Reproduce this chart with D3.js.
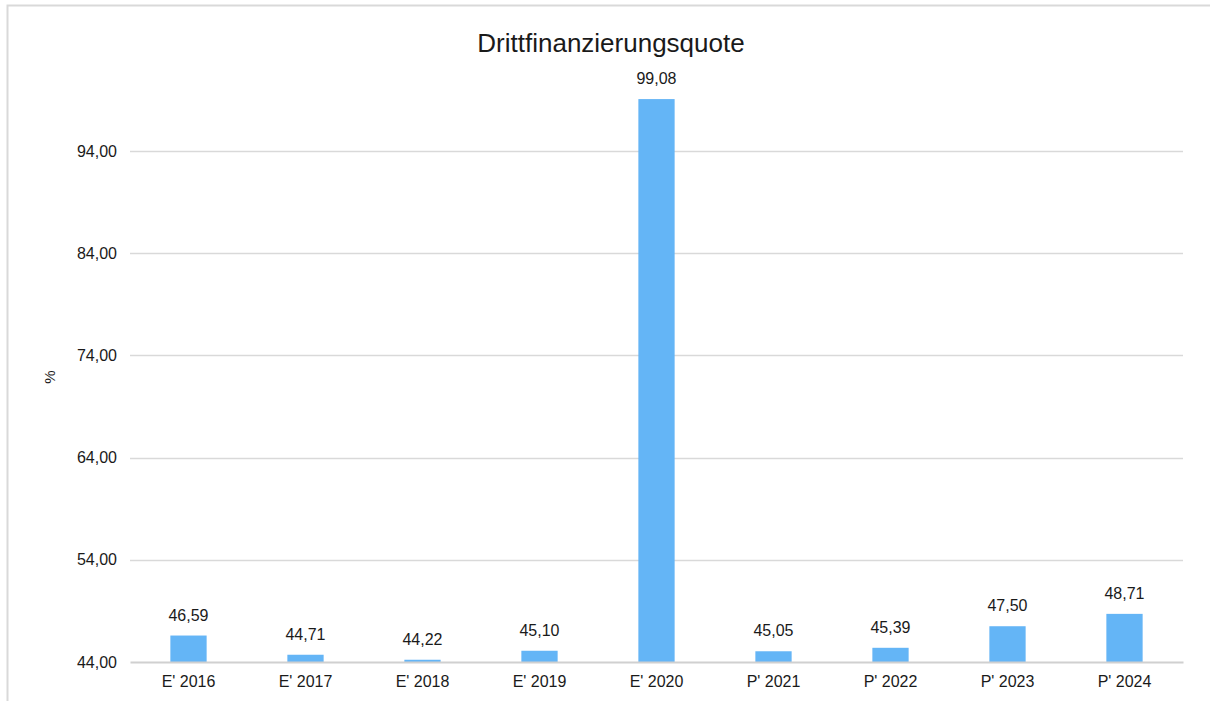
<!DOCTYPE html>
<html>
<head>
<meta charset="utf-8">
<script src="https://cdn.jsdelivr.net/npm/d3@7"></script>
<style>
  body { margin: 0; background: #fff; }
  svg { font-family: "Liberation Sans", Arial, sans-serif; }
</style>
</head>
<body>
<div id="chart"></div>
<script>
var categories = ["E' 2016", "E' 2017", "E' 2018", "E' 2019", "E' 2020", "P' 2021", "P' 2022", "P' 2023", "P' 2024"];
var values = [46.59, 44.71, 44.22, 45.10, 99.08, 45.05, 45.39, 47.50, 48.71];
var yTicks = [44, 54, 64, 74, 84, 94];
var title = "Drittfinanzierungsquote";
var yLabel = "%";

var width = 1210, height = 701,
    margin = {top: 99, right: 27, bottom: 39, left: 130};

var fmt = function(v) { return d3.format(".2f")(v).replace(".", ","); };

var svg = d3.select("#chart").append("svg")
    .attr("width", width)
    .attr("height", height);

// outer frame (only top and left edges are inside the window)
svg.append("rect")
    .attr("x", 7.5).attr("y", 5.5)
    .attr("width", width + 20).attr("height", height + 20)
    .attr("fill", "none")
    .attr("stroke", "#d9d9d9")
    .attr("stroke-width", 2);

var x = d3.scaleBand()
    .domain(categories)
    .range([margin.left, width - margin.right])
    .paddingInner(0.69)
    .paddingOuter(0.345);

var y = d3.scaleLinear()
    .domain([44, 94])
    .range([height - margin.bottom, 151]);

// gridlines
svg.append("g")
  .selectAll("line")
  .data(yTicks.slice(1))
  .join("line")
    .attr("x1", margin.left).attr("x2", width - margin.right)
    .attr("y1", function(d) { return Math.round(y(d)) + 0.5; })
    .attr("y2", function(d) { return Math.round(y(d)) + 0.5; })
    .attr("stroke", "#d9d9d9")
    .attr("stroke-width", 1.5);

// y axis labels
svg.append("g")
    .attr("transform", "translate(" + (margin.left - 13) + ",0)")
    .call(d3.axisLeft(y).tickValues(yTicks).tickSize(0).tickPadding(0).tickFormat(fmt))
    .call(function(g) { g.select(".domain").remove(); })
    .call(function(g) {
      g.selectAll("text")
        .attr("font-size", 16)
        .attr("font-family", "Liberation Sans, Arial, sans-serif")
        .attr("fill", "#1a1a1a");
    });

// bars
svg.append("g")
  .selectAll("rect")
  .data(values)
  .join("rect")
    .attr("x", function(d, i) { return x(categories[i]); })
    .attr("width", x.bandwidth())
    .attr("y", function(d) { return y(d); })
    .attr("height", function(d) { return y(44) - y(d); })
    .attr("fill", "#64b5f6");

// value labels
svg.append("g")
  .selectAll("text")
  .data(values)
  .join("text")
    .attr("x", function(d, i) { return x(categories[i]) + x.bandwidth() / 2; })
    .attr("y", function(d) { return y(d) - 15; })
    .attr("text-anchor", "middle")
    .attr("font-size", 16)
    .attr("fill", "#1a1a1a")
    .text(fmt);

// x axis
svg.append("g")
    .attr("transform", "translate(0," + y(44) + ")")
    .call(d3.axisBottom(x).tickSize(0).tickPadding(14))
    .call(function(g) {
      g.select(".domain").attr("stroke", "#d0d0d0").attr("stroke-width", 2);
      g.selectAll("text")
        .attr("font-size", 16)
        .attr("font-family", "Liberation Sans, Arial, sans-serif")
        .attr("fill", "#1a1a1a");
    });

// title
svg.append("text")
    .attr("x", 611).attr("y", 52)
    .attr("text-anchor", "middle")
    .attr("font-size", 26)
    .attr("fill", "#1a1a1a")
    .text(title);

// y label
svg.append("text")
    .attr("transform", "translate(55,377) rotate(-90)")
    .attr("text-anchor", "middle")
    .attr("font-size", 15)
    .attr("fill", "#1a1a1a")
    .text(yLabel);
</script>
</body>
</html>
